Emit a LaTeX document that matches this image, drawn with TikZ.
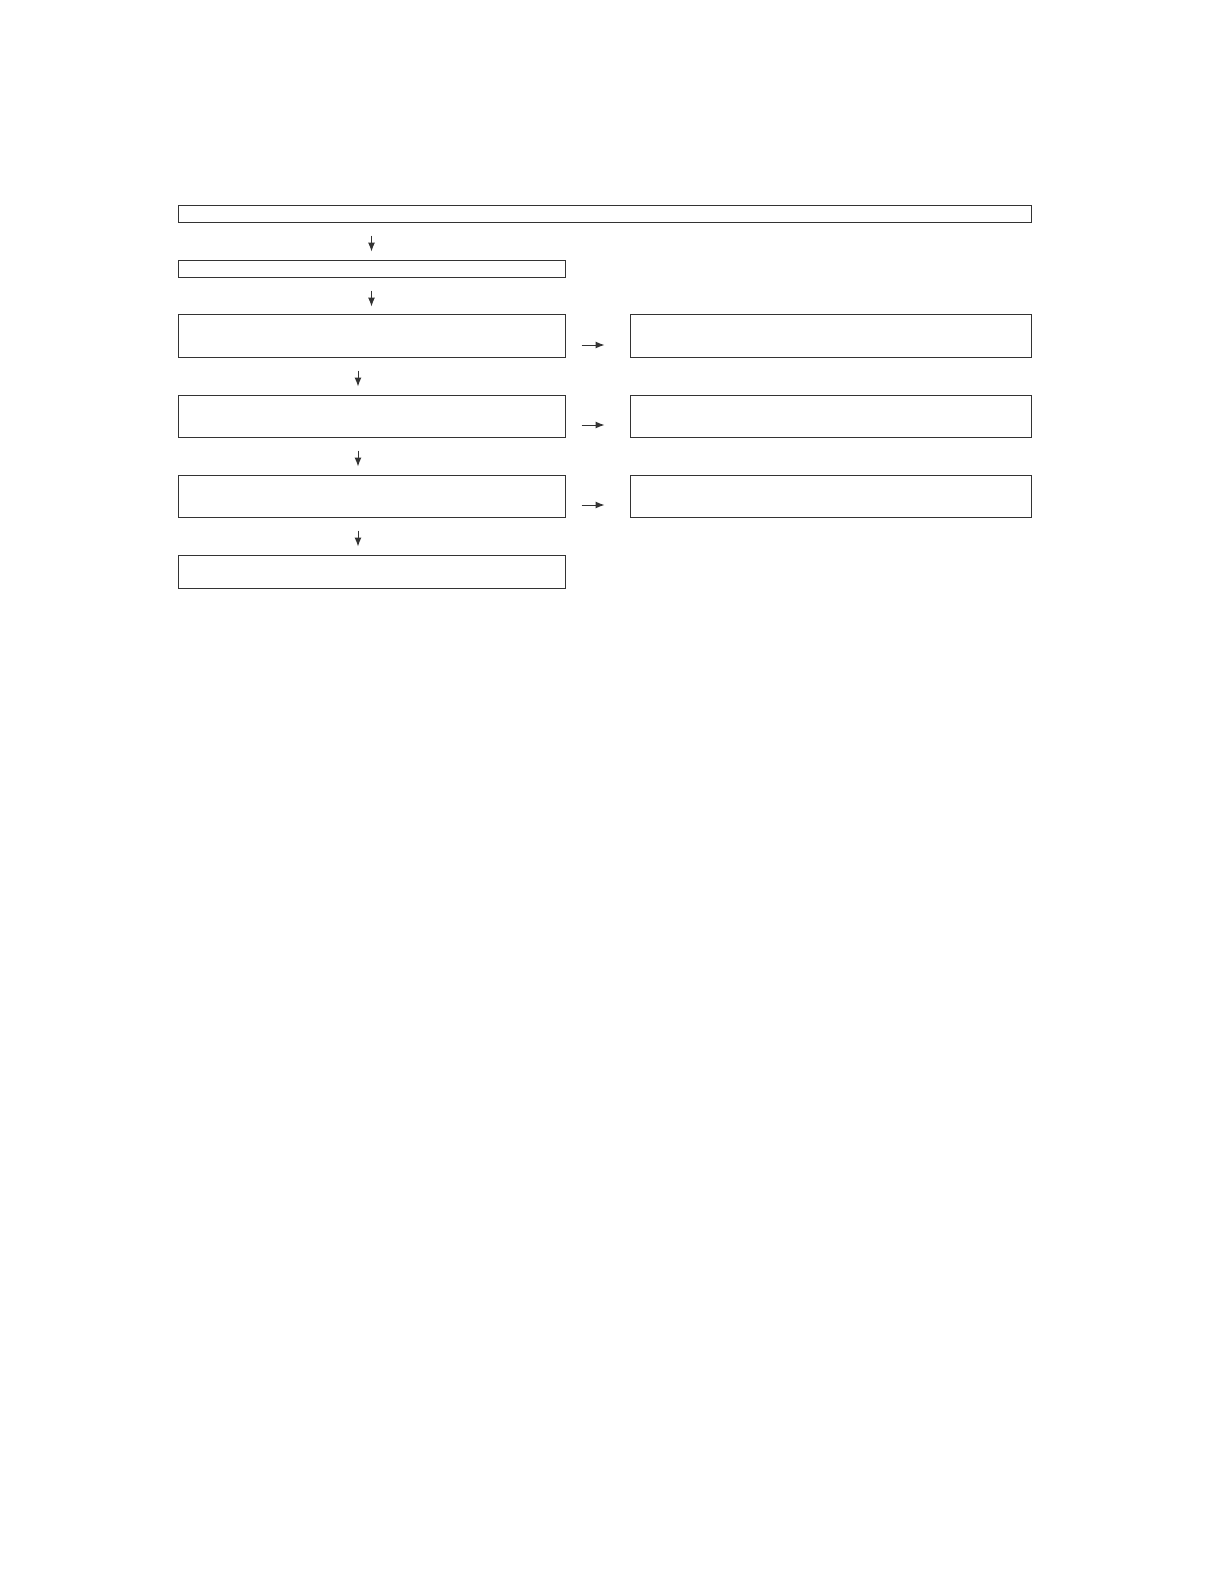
\documentclass[tikz,border=0pt]{standalone}
\usetikzlibrary{arrows.meta}
\begin{document}
\begin{tikzpicture}[x=0.5pt,y=-0.5pt,
	  stepbox/.style={draw=black!80, line width=0.5pt, inner sep=0pt},
	  flow/.style={draw=black!80, line width=0.5pt, -{Latex[length=4.5pt,width=3.5pt]}},
	  down/.style={flow, shorten <=6.5pt, shorten >=4pt},
	  side/.style={flow, shorten <=8pt, shorten >=12.5pt}]
	  \useasboundingbox (0,0) rectangle (1224,1584);

	  % left column
	  \node [stepbox, minimum width=426.5pt, minimum height=8.5pt] (top) at (604.5,213.5) {};
	  \node [stepbox, minimum width=193.5pt, minimum height=8.5pt] (b2) at (371.5,268.5) {};
	  \node [stepbox, minimum width=193.5pt, minimum height=21.5pt] (b3) at (371.5,335.5) {};
	  \node [stepbox, minimum width=193.5pt, minimum height=21pt] (b4) at (371.5,416) {};
	  \node [stepbox, minimum width=193.5pt, minimum height=21pt] (b5) at (371.5,496) {};
	  \node [stepbox, minimum width=193.5pt, minimum height=16.5pt] (b6) at (371.5,571.5) {};

	  % right column
	  \node [stepbox, minimum width=200.5pt, minimum height=21.5pt] (r1) at (830.5,335.5) {};
	  \node [stepbox, minimum width=200.5pt, minimum height=21pt] (r2) at (830.5,416) {};
	  \node [stepbox, minimum width=200.5pt, minimum height=21pt] (r3) at (830.5,496) {};

	  \draw [down] (top.south -| b2.north) -- (b2.north);
	  \draw [down, shorten >=3.5pt] (b2.south) -- (b3.north);
	  \draw [down] ([xshift=-6.75pt]b3.south) -- ([xshift=-6.75pt]b4.north);
	  \draw [down] ([xshift=-6.75pt]b4.south) -- ([xshift=-6.75pt]b5.north);
	  \draw [down] ([xshift=-6.75pt]b5.south) -- ([xshift=-6.75pt]b6.north);

	  \draw [side] ([yshift=-4.75pt]b3.east) -- ([yshift=-4.75pt]r1.west);
	  \draw [side] ([yshift=-4.5pt]b4.east) -- ([yshift=-4.5pt]r2.west);
	  \draw [side] ([yshift=-4.5pt]b5.east) -- ([yshift=-4.5pt]r3.west);
\end{tikzpicture}
\end{document}
